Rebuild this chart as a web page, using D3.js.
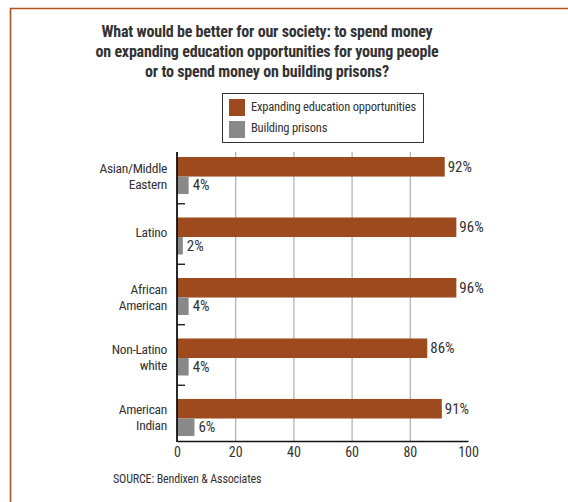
<!DOCTYPE html>
<html>
<head>
<meta charset="utf-8">
<script src="https://cdn.jsdelivr.net/npm/d3@7"></script>
<style>
  html, body { margin: 0; padding: 0; background: #fff; }
  svg { display: block; }
  text { font-family: "Liberation Sans Narrow", "Roboto Condensed", "DejaVu Sans Condensed", "Liberation Sans", sans-serif; fill: #333; }
</style>
</head>
<body>
<svg id="chart" width="568" height="502"></svg>
<script>
// Survey groups (each label split into display lines)
const categories = [
  ["Asian/Middle", "Eastern"],
  ["Latino"],
  ["African", "American"],
  ["Non-Latino", "white"],
  ["American", "Indian"]
];
const educationValues = [92, 96, 96, 86, 91];
const prisonValues = [4, 2, 4, 4, 6];
const xTicks = [0, 20, 40, 60, 80, 100];
const titleLines = [
  "What would be better for our society: to spend money",
  "on expanding education opportunities for young people",
  "or to spend money on building prisons?"
];
const seriesNames = ["Expanding education opportunities", "Building prisons"];
const sourceText = "SOURCE: Bendixen & Associates";

const colors = { education: "#9c4a1e", prison: "#898989", frame: "#b5501f" };

const svg = d3.select("#chart");

// Frame: top and left rules
svg.append("path")
  .attr("d", "M10.5,502 L10.5,8.5 L568,8.5")
  .attr("fill", "none")
  .attr("stroke", colors.frame)
  .attr("stroke-width", 1.6);

// Title
svg.append("g").selectAll("text").data(titleLines).join("text")
  .attr("x", 267)
  .attr("y", (d, i) => 37 + i * 20)
  .attr("text-anchor", "middle")
  .attr("font-size", 16)
  .attr("letter-spacing", -0.2)
  .attr("font-weight", "bold")
  .attr("fill", "#222")
  .text(d => d);

// Legend
const legend = svg.append("g");
legend.append("rect")
  .attr("x", 222.5).attr("y", 93.5).attr("width", 201).attr("height", 49)
  .attr("fill", "#fff").attr("stroke", "#333").attr("stroke-width", 1);
const legendColors = [colors.education, colors.prison];
seriesNames.forEach((name, i) => {
  legend.append("rect")
    .attr("x", 229).attr("y", 99 + i * 22).attr("width", 16).attr("height", 17)
    .attr("fill", legendColors[i]);
  legend.append("text")
    .attr("x", 251).attr("y", 111 + i * 21)
    .attr("font-size", 12.5)
    .attr("letter-spacing", -0.2)
    .text(name);
});

// Plot scales
const x = d3.scaleLinear().domain([0, 100]).range([177, 468]);
const y = d3.scaleBand()
  .domain(d3.range(categories.length))
  .range([152, 441])
  .paddingInner(0.388)
  .paddingOuter(0.083);
const eduH = y.bandwidth() * 19 / 36;
const prisH = y.bandwidth() - eduH;

// Gridlines
svg.append("g").selectAll("line").data(xTicks.filter(t => t > 0 && t < 100)).join("line")
  .attr("x1", d => x(d) + 0.5).attr("x2", d => x(d) + 0.5)
  .attr("y1", 152).attr("y2", 441)
  .attr("stroke", "#b4b4b4").attr("stroke-width", 1.3);

// Bars
const groups = svg.append("g").selectAll("g").data(categories).join("g");
groups.append("rect")
  .attr("x", x(0))
  .attr("y", (d, i) => y(i))
  .attr("width", (d, i) => x(educationValues[i]) - x(0))
  .attr("height", eduH)
  .attr("fill", colors.education);
groups.append("rect")
  .attr("x", x(0))
  .attr("y", (d, i) => y(i) + eduH)
  .attr("width", (d, i) => x(prisonValues[i]) - x(0))
  .attr("height", prisH)
  .attr("fill", colors.prison);

// Value labels
groups.append("text")
  .attr("x", (d, i) => x(educationValues[i]) + 3)
  .attr("y", (d, i) => y(i) + eduH / 2 + 5)
  .attr("font-size", 15)
  .text((d, i) => educationValues[i] + "%");
groups.append("text")
  .attr("x", (d, i) => x(prisonValues[i]) + 4)
  .attr("y", (d, i) => y(i) + eduH + prisH / 2 + 5)
  .attr("font-size", 15)
  .text((d, i) => prisonValues[i] + "%");

// Category labels
groups.append("text")
  .attr("text-anchor", "end")
  .attr("font-size", 13.5)
  .attr("letter-spacing", -0.3)
  .each(function (d, i) {
    const c = y(i) + y.bandwidth() / 2;
    const t = d3.select(this);
    if (d.length === 1) {
      t.append("tspan").attr("x", 167).attr("y", c + 1).text(d[0]);
    } else {
      d.forEach((line, j) => {
        t.append("tspan").attr("x", 167).attr("y", c - 3 + j * 16).text(line);
      });
    }
  });

// Separator ticks between groups on the left axis
const sepYs = d3.range(1, categories.length).map(i => (y(i - 1) + y.bandwidth() + y(i)) / 2 - 2);
svg.append("g").selectAll("line").data(sepYs).join("line")
  .attr("x1", 177).attr("x2", 185)
  .attr("y1", d => d).attr("y2", d => d)
  .attr("stroke", "#111").attr("stroke-width", 1.3);

// Axes
const xAxis = svg.append("g")
  .attr("transform", "translate(0,441)")
  .call(d3.axisBottom(x).tickValues(xTicks).tickSize(0).tickPadding(6).tickFormat(d3.format("d")));
xAxis.select(".domain").attr("stroke", "#111").attr("stroke-width", 1.6);
xAxis.selectAll("text")
  .attr("font-size", 14)
  .attr("fill", "#333")
  .style("font-family", "\"Liberation Sans Narrow\", \"Roboto Condensed\", \"DejaVu Sans Condensed\", sans-serif");

svg.append("line")
  .attr("x1", 177).attr("x2", 177).attr("y1", 152).attr("y2", 442)
  .attr("stroke", "#111").attr("stroke-width", 1.8);

// Source note
svg.append("text")
  .attr("x", 113).attr("y", 483)
  .attr("font-size", 12)
  .attr("letter-spacing", -0.15)
  .text(sourceText);
</script>
</body>
</html>
